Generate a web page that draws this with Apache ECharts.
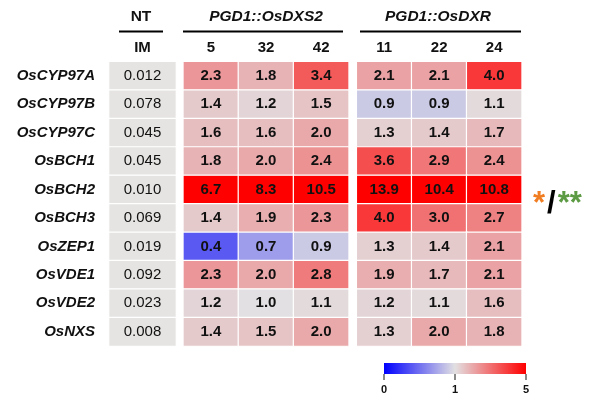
<!DOCTYPE html>
<html>
<head>
<meta charset="utf-8">
<script src="https://cdn.jsdelivr.net/npm/echarts@6/dist/echarts.min.js"></script>
<style>
html,body{margin:0;padding:0;background:#fff;}
#chart{width:592px;height:398px;}
</style>
</head>
<body>
<div id="chart"></div>
<script>
// ---- data ----
const genes = ['OsCYP97A','OsCYP97B','OsCYP97C','OsBCH1','OsBCH2','OsBCH3','OsZEP1','OsVDE1','OsVDE2','OsNXS'];
const ntLines = ['IM'];
const ntValues = [0.012, 0.078, 0.045, 0.045, 0.010, 0.069, 0.019, 0.092, 0.023, 0.008];
const dxs2Lines = ['5','32','42'];
const dxs2Values = [
  [2.3, 1.8, 3.4],
  [1.4, 1.2, 1.5],
  [1.6, 1.6, 2.0],
  [1.8, 2.0, 2.4],
  [6.7, 8.3, 10.5],
  [1.4, 1.9, 2.3],
  [0.4, 0.7, 0.9],
  [2.3, 2.0, 2.8],
  [1.2, 1.0, 1.1],
  [1.4, 1.5, 2.0]
];
const dxrLines = ['11','22','24'];
const dxrValues = [
  [2.1, 2.1, 4.0],
  [0.9, 0.9, 1.1],
  [1.3, 1.4, 1.7],
  [3.6, 2.9, 2.4],
  [13.9, 10.4, 10.8],
  [4.0, 3.0, 2.7],
  [1.3, 1.4, 2.1],
  [1.9, 1.7, 2.1],
  [1.2, 1.1, 1.6],
  [1.3, 2.0, 1.8]
];
const groupTitles = ['NT', 'PGD1::OsDXS2', 'PGD1::OsDXR'];
const colorbarTicks = [0, 1, 5];

// ---- helpers ----
// colour scale: 0..1 occupies first half, 1..5 second half
function scalePos(v) { return v <= 1 ? v : Math.min(2, 1 + (v - 1) / 4); }
function cells(matrix) {
  const out = [];
  matrix.forEach((row, y) => row.forEach((v, x) => out.push([x, y, v, scalePos(v)])));
  return out;
}
const ntData = ntValues.map((v, y) => [0, y, v]);

const FONT = 'Liberation Sans, Arial, sans-serif';
const gridTop = 61.7, gridBottom = 398 - 346;
const grids = [
  {left: 109, width: 67, top: gridTop, bottom: gridBottom},
  {left: 183.3, width: 165.4, top: gridTop, bottom: gridBottom},
  {left: 356.7, width: 165, top: gridTop, bottom: gridBottom}
];
function xAx(i, cats) {
  return {
    type: 'category', gridIndex: i, data: cats, position: 'top',
    axisLine: {show: false}, axisTick: {show: false}, splitLine: {show: false},
    axisLabel: {fontFamily: FONT, fontWeight: 'bold', fontSize: 15, color: '#111', margin: 6}
  };
}
function yAx(i, showLabels) {
  return {
    type: 'category', gridIndex: i, data: genes, inverse: true,
    axisLine: {show: false}, axisTick: {show: false}, splitLine: {show: false},
    axisLabel: {show: showLabels, fontFamily: FONT, fontWeight: 'bold', fontStyle: 'italic', fontSize: 15, color: '#111', margin: 14}
  };
}
const valueLabel = {
  show: true, fontFamily: FONT, fontWeight: 'bold', fontSize: 15, color: '#111',
  formatter: p => p.value[2].toFixed(1)
};

const cbX0 = 384, cbX1 = 526, cbY = 363, cbH = 11;
const graphics = [];
// header titles and lines
const headers = [
  {text: groupTitles[0], cx: 141, x0: 119, x1: 163, italic: false},
  {text: groupTitles[1], cx: 266, x0: 183, x1: 343, italic: true},
  {text: groupTitles[2], cx: 438, x0: 360, x1: 521, italic: true}
];
headers.forEach(h => {
  graphics.push({type: 'text', style: {text: h.text, x: h.cx, y: 17, align: 'center', verticalAlign: 'middle',
    font: (h.italic ? 'italic ' : '') + 'bold 15.5px ' + FONT, fill: '#111'}});
  graphics.push({type: 'line', shape: {x1: h.x0, y1: 31.5, x2: h.x1, y2: 31.5}, style: {stroke: '#000', lineWidth: 2.2}});
});
// significance marks
graphics.push({type: 'text', style: {
  text: '{a|*}{b|/}{c|**}', x: 533, y: 204, verticalAlign: 'middle', align: 'left',
  rich: {
    a: {fontFamily: FONT, fontWeight: 'bold', fontSize: 31, fill: '#f07d22'},
    b: {fontFamily: FONT, fontWeight: 'bold', fontSize: 31, fill: '#000', padding: [0, 2, 0, 2]},
    c: {fontFamily: FONT, fontWeight: 'bold', fontSize: 31, fill: '#5c9a43'}
  }
}});
// colour bar
graphics.push({type: 'rect', shape: {x: cbX0, y: cbY, width: cbX1 - cbX0, height: cbH}, style: {
  fill: new echarts.graphic.LinearGradient(0, 0, 1, 0, [
    {offset: 0, color: '#0000ff'}, {offset: 0.5, color: '#e2e0e2'}, {offset: 1, color: '#ff0000'}
  ])
}});
colorbarTicks.forEach(t => {
  const x = cbX0 + (cbX1 - cbX0) * scalePos(t) / 2;
  graphics.push({type: 'line', shape: {x1: x, y1: cbY + cbH, x2: x, y2: cbY + cbH + 6}, style: {stroke: '#8a8a8a', lineWidth: 2}});
  graphics.push({type: 'text', style: {text: String(t), x: x, y: 389.5, align: 'center', verticalAlign: 'middle',
    font: 'bold 11px ' + FONT, fill: '#111'}});
});

const chart = echarts.init(document.getElementById('chart'), null, {renderer: 'canvas'});
chart.setOption({
  animation: false,
  backgroundColor: '#ffffff',
  grid: grids,
  xAxis: [xAx(0, ntLines), xAx(1, dxs2Lines), xAx(2, dxrLines)],
  yAxis: [yAx(0, true), yAx(1, false), yAx(2, false)],
  visualMap: {
    type: 'continuous', show: false, min: 0, max: 2, dimension: 3, seriesIndex: [1, 2],
    inRange: {color: ['#0000ff', '#e2e0e2', '#ff0000']}
  },
  series: [
    {type: 'heatmap', xAxisIndex: 0, yAxisIndex: 0, data: ntData,
      itemStyle: {color: '#e5e4e2', borderColor: '#fff', borderWidth: 1.2},
      label: {show: true, fontFamily: FONT, fontSize: 15, color: '#111', formatter: p => p.value[2].toFixed(3)},
      emphasis: {disabled: true}},
    {type: 'heatmap', xAxisIndex: 1, yAxisIndex: 1, data: cells(dxs2Values),
      itemStyle: {borderColor: '#fff', borderWidth: 1.2}, label: valueLabel, emphasis: {disabled: true}},
    {type: 'heatmap', xAxisIndex: 2, yAxisIndex: 2, data: cells(dxrValues),
      itemStyle: {borderColor: '#fff', borderWidth: 1.2}, label: valueLabel, emphasis: {disabled: true}}
  ],
  graphic: graphics
});
</script>
</body>
</html>
